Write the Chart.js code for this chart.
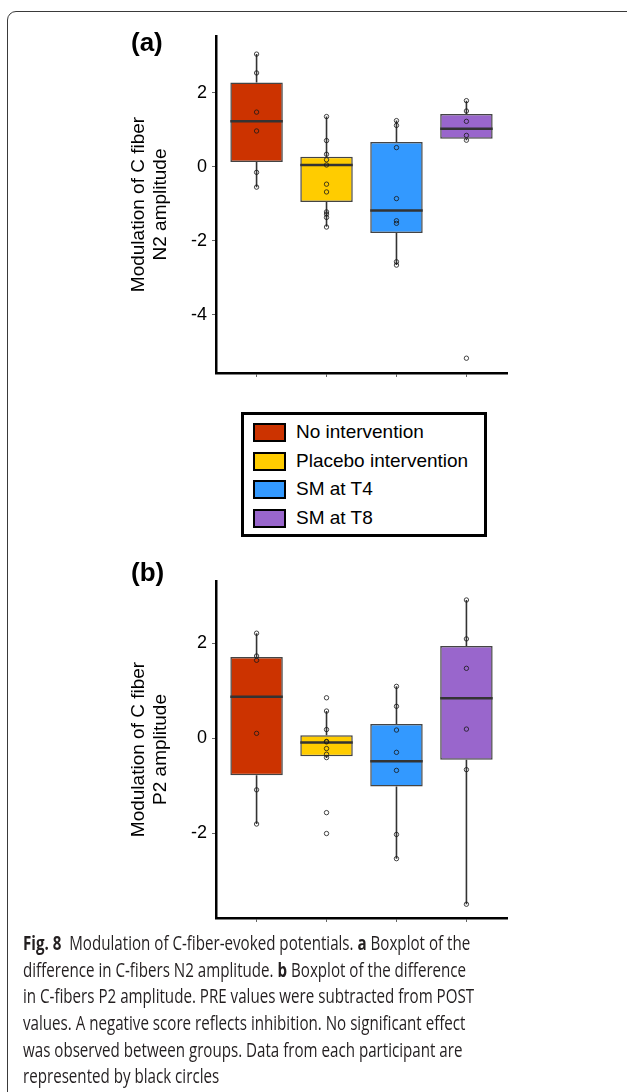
<!DOCTYPE html>
<html>
<head>
<meta charset="utf-8">
<script src="https://cdn.jsdelivr.net/npm/chart.js@4.4.1/dist/chart.umd.min.js"></script>
<style>
body{margin:0;width:627px;height:1092px;background:#fff;position:relative;overflow:hidden;font-family:"Liberation Sans",Arial,sans-serif;}
#frame{position:absolute;left:7px;top:11px;width:640px;height:1120px;border:1px solid #3a3a3a;border-radius:9px;}
canvas{position:absolute;left:0;}
.plab{position:absolute;left:131px;font-weight:bold;font-size:26px;color:#000;}
#legend{position:absolute;left:241px;top:412px;width:240px;height:119px;border:3px solid #000;background:#fff;}
.lrow{position:absolute;left:9px;height:20px;font-size:19px;color:#000;}
.lrow span.sw{position:absolute;left:0;top:0;width:29px;height:15px;border:2px solid #000;}
.lrow span.tx{position:absolute;left:43px;top:-2px;white-space:nowrap;}
#caption{position:absolute;left:23px;top:930px;font-family:"Open Sans",sans-serif;font-size:19.5px;color:#231f20;}
#caption div{white-space:nowrap;height:26.7px;line-height:26.7px;transform-origin:0 50%;}
</style>
</head>
<body>
<div id="frame"></div>
<canvas id="chartN2" width="627" height="390" style="top:0px"></canvas>
<canvas id="chartP2" width="627" height="390" style="top:545px"></canvas>
<div class="plab" style="top:27px">(a)</div>
<div class="plab" style="top:557px">(b)</div>
<div id="legend"></div>
<div id="caption">
<div><b>Fig. 8</b>&nbsp; Modulation of C-fiber-evoked potentials. <b>a</b> Boxplot of the</div>
<div>difference in C-fibers N2 amplitude. <b>b</b> Boxplot of the difference</div>
<div>in C-fibers P2 amplitude. PRE values were subtracted from POST</div>
<div>values. A negative score reflects inhibition. No significant effect</div>
<div>was observed between groups. Data from each participant are</div>
<div>represented by black circles</div>
</div>
<script>
//groups
var groups=["No intervention","Placebo intervention","SM at T4","SM at T8"];
var groupColors=["#CC3300","#FFCC00","#3399FF","#9966CC"];

//(a) N2 amplitude, box stats
var n2Q1=[0.13,-0.95,-1.79,0.76];
var n2Median=[1.23,0.05,-1.18,1.03];
var n2Q3=[2.28,0.27,0.67,1.43];
var n2Low=[-0.55,-1.62,-2.66,0.72];
var n2High=[3.05,1.36,1.25,1.79];
var n2Points=[
	[3.05,2.54,1.48,0.97,-0.15,-0.55],
	[1.36,0.71,0.34,0.19,0.05,-0.47,-0.68,-1.22,-1.28,-1.37,-1.63],
	[1.25,1.12,0.52,-0.86,-1.46,-1.53,-2.57,-2.66],
	[1.79,1.51,1.23,0.85,0.72,-5.18]
];
var n2Ticks=[-4,-2,0,2];

//(b) P2 amplitude
var p2Q1=[-0.785,-0.38,-1.02,-0.455];
var p2Median=[0.87,-0.09,-0.49,0.84];
var p2Q3=[1.71,0.06,0.295,1.94];
var p2Low=[-1.81,-0.42,-2.54,-3.50];
var p2High=[2.21,0.57,1.09,2.91];
var p2Points=[
	[2.21,1.73,1.64,0.10,-1.09,-1.81],
	[0.85,0.57,0.18,-0.07,-0.08,-0.22,-0.34,-0.41,-1.57,-2.01],
	[1.09,0.67,0.17,-0.30,-0.68,-2.03,-2.54],
	[2.91,2.09,1.47,0.19,-0.665,-3.50]
];
var p2Ticks=[-2,0,2];

var HALF_BOX=0.375;

//build one boxplot chart
var makeBoxChart=function(id,q1,med,q3,lo,hi,pts,ticks,yMin,yMax,title){
	var boxes=[],whiskers=[],medians=[],dots=[];
	for(var i=0;i<groups.length;i++){
		var x=i+1;
		boxes.push({x:x,y:[q1[i],q3[i]]});
		whiskers.push({x:x,y:q3[i]},{x:x,y:hi[i]},{x:x,y:null});
		whiskers.push({x:x,y:q1[i]},{x:x,y:lo[i]},{x:x,y:null});
		medians.push({x:x-HALF_BOX,y:med[i]},{x:x+HALF_BOX,y:med[i]},{x:x,y:null});
		for(var j=0;j<pts[i].length;j++){
			dots.push({x:x,y:pts[i][j]});
		}
	}
	var ctx=document.getElementById(id).getContext("2d");
	return new Chart(ctx,{
		type:"bar",
		data:{
			datasets:[
				{type:"scatter",data:dots,order:0,pointRadius:2.2,pointBorderWidth:1,
					pointBackgroundColor:"rgba(255,255,255,0)",pointBorderColor:"rgba(25,25,25,0.8)"},
				{type:"line",data:medians,order:1,borderColor:"#333",borderWidth:2.5,pointRadius:0,spanGaps:false,fill:false},
				{type:"bar",data:boxes,order:2,backgroundColor:groupColors,borderColor:"#444",borderWidth:1.5,
					borderSkipped:false,categoryPercentage:1,barPercentage:0.75},
				{type:"line",data:whiskers,order:3,borderColor:"#333",borderWidth:1.6,pointRadius:0,spanGaps:false,fill:false}
			]
		},
		options:{
			responsive:false,
			animation:false,
			events:[],
			layout:{padding:{left:127,top:36,right:120,bottom:0}},
			plugins:{legend:{display:false},tooltip:{enabled:false}},
			scales:{
				x:{
					type:"linear",offset:false,min:0.42,max:4.58,
					afterBuildTicks:function(s){s.ticks=[1,2,3,4].map(function(v){return {value:v};});},
					afterFit:function(s){s.height=17;},
					ticks:{callback:function(){return "";}},
					grid:{offset:false,drawOnChartArea:false,tickLength:4,color:"#666"},
					border:{display:true,color:"#000",width:2.5}
				},
				y:{
					min:yMin,max:yMax,
					afterBuildTicks:function(s){s.ticks=ticks.map(function(v){return {value:v};});},
					afterFit:function(s){s.width=89;},
					ticks:{color:"#000",padding:5,font:{family:"Liberation Sans",size:18}},
					grid:{drawOnChartArea:false,tickLength:4,color:"#666"},
					border:{display:true,color:"#000",width:2.5},
					title:{display:true,text:title,color:"#000",padding:0,
						font:{family:"Liberation Sans",size:19,lineHeight:1.2}}
				}
			}
		}
	});
};

makeBoxChart("chartN2",n2Q1,n2Median,n2Q3,n2Low,n2High,n2Points,n2Ticks,-5.58,3.54,["Modulation of C fiber","N2 amplitude"]);
makeBoxChart("chartP2",p2Q1,p2Median,p2Q3,p2Low,p2High,p2Points,p2Ticks,-3.79,3.31,["Modulation of C fiber","P2 amplitude"]);

//legend
var legend=document.getElementById("legend");
for(var k=0;k<groups.length;k++){
	var row=document.createElement("div");
	row.className="lrow";
	row.style.top=(8+k*28.5)+"px";
	row.innerHTML='<span class="sw" style="background:'+groupColors[k]+'"></span><span class="tx">'+groups[k]+'</span>';
	legend.appendChild(row);
}

//squeeze caption to the narrow print face
var lines=document.querySelectorAll("#caption div");
var first=lines[0].scrollWidth;
var sc=451/first;
for(var m=0;m<lines.length;m++){
	lines[m].style.transform="scaleX("+sc+")";
}
</script>
</body>
</html>
